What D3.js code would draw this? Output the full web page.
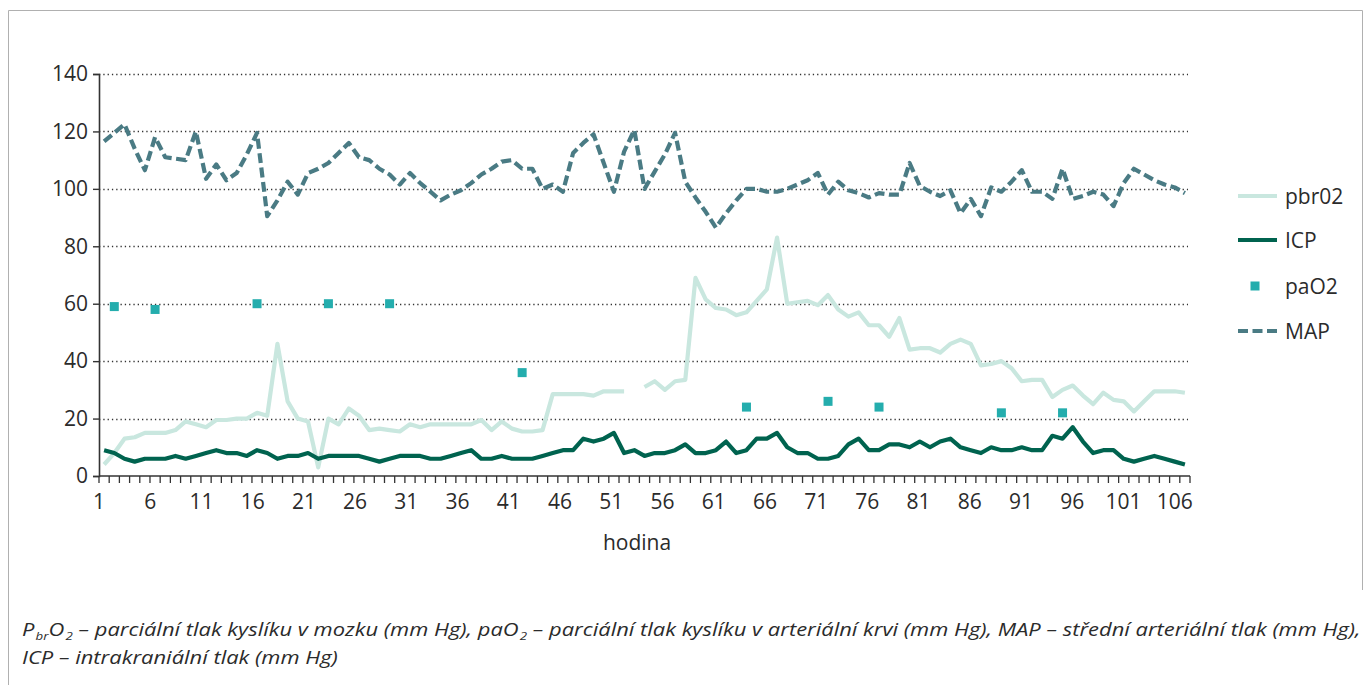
<!DOCTYPE html>
<html>
<head>
<meta charset="utf-8">
<script src="https://cdn.jsdelivr.net/npm/d3@7"></script>
<style>
  html, body { margin: 0; padding: 0; background: #fff; }
  svg { display: block; font-family: "Open Sans", "Noto Sans", sans-serif; }
</style>
</head>
<body>
<svg id="chart" width="1370" height="685"></svg>
<script>
// ---------- data ----------
const hours = d3.range(1, 108); // categories 1..107
const xTickLabels = [1, 6, 11, 16, 21, 26, 31, 36, 41, 46, 51, 56, 61, 66, 71, 76, 81, 86, 91, 96, 101, 106];
const yTicks = [0, 20, 40, 60, 80, 100, 120, 140];

const pbr02 = [
  4, 8, 13, 13.5, 15, 15, 15, 16, 19, 18, 17, 19.5, 19.5, 20, 20, 22, 21, 46, 26, 20, 19, 3, 20, 18, 23.5, 21, 16,
  16.5, 16, 15.5, 18, 17, 18, 18, 18, 18, 18, 19.5, 16, 19, 16.5, 15.5, 15.5, 16, 28.5, 28.5, 28.5, 28.5, 28, 29.5, 29.5, 29.5,
  null,
  31, 33, 30, 33, 33.5, 69, 61.5, 58.5, 58, 56, 57, 61, 65, 83, 60, 60.5, 61, 59.5, 63, 58, 55.5, 57, 52.5, 52.5, 48.5, 55, 44,
  44.5, 44.5, 43, 46, 47.5, 46, 38.5, 39, 40, 37.5, 33, 33.5, 33.5, 27.5, 30, 31.5, 28, 25, 29, 26.5, 26, 22.5, 26, 29.5, 29.5, 29.5, 29
];

const icp = [
  9, 8, 6, 5, 6, 6, 6, 7, 6, 7, 8, 9, 8, 8, 7, 9, 8, 6, 7, 7, 8, 6, 7, 7, 7, 7, 6,
  5, 6, 7, 7, 7, 6, 6, 7, 8, 9, 6, 6, 7, 6, 6, 6, 7, 8, 9, 9, 13, 12, 13, 15, 8, 9,
  7, 8, 8, 9, 11, 8, 8, 9, 12, 8, 9, 13, 13, 15, 10, 8, 8, 6, 6, 7, 11, 13, 9, 9, 11, 11, 10,
  12, 10, 12, 13, 10, 9, 8, 10, 9, 9, 10, 9, 9, 14, 13, 17, 12, 8, 9, 9, 6, 5, 6, 7, 6, 5, 4
];

const map = [
  116.5, 119.5, 122.5, 114, 106.5, 118, 111, 110.5, 110, 120, 103.5, 108.5, 103, 105.5, 112, 119.5, 90.5, 96, 102.5, 98, 105.5, 107, 109, 112.5, 116, 111, 110,
  107, 105, 101.5, 105.5, 102, 99, 96, 98, 99.5, 102, 105, 107, 109.5, 110, 107, 107, 100, 101.5, 99, 112.5, 116, 119, 109, 99, 113, 120.5,
  100, 106, 112, 119.5, 102.5, 97, 92, 86.5, 91.5, 96, 100, 100, 99, 99, 100, 101.5, 103, 105.5, 98, 102.5, 99.5, 98.5, 97, 98.5, 98, 98, 109,
  101, 99, 97.5, 99.5, 91.5, 96.5, 90.5, 100.5, 99, 102.5, 106.5, 99, 99, 96.5, 107, 96.5, 97.5, 99, 98, 94, 102, 107, 105, 103, 101.5, 100.5, 98.5
];

const paO2Hours = [2, 6, 16, 23, 29, 42, 64, 72, 77, 89, 95];
const paO2Values = [59, 58, 60, 60, 60, 36, 24, 26, 24, 22, 22];

const seriesNames = ["pbr02", "ICP", "paO2", "MAP"];
const colors = { pbr02: "#c9e7df", ICP: "#00634f", paO2: "#24adad", MAP: "#4a7b84" };

// ---------- layout ----------
const svg = d3.select("#chart");
const pL = 99, pR = 1190, pT = 74, pB = 476;

const x = d3.scaleBand().domain(hours).range([pL, pR]).padding(0);
const bw = x.bandwidth();
const cx = h => x(h) + bw / 2;
const y = d3.scaleLinear().domain([0, 140]).range([pB, pT]);
// label positions (labels sit slightly left of the category centres at the start, on them at the end)
const xLab = d3.scaleLinear().domain([1, 106]).range([x(1), cx(106)]);

// frame
const frame = svg.append("g").attr("stroke", "#b0b0b0").attr("stroke-width", 1).attr("fill", "none");
frame.append("line").attr("x1", 8.5).attr("x2", 1362.5).attr("y1", 10.5).attr("y2", 10.5);
frame.append("line").attr("x1", 8.5).attr("x2", 8.5).attr("y1", 10.5).attr("y2", 685);
frame.append("line").attr("x1", 1362.5).attr("x2", 1362.5).attr("y1", 10.5).attr("y2", 590);

// gridlines
svg.append("g").selectAll("line").data(yTicks.filter(d => d > 0)).join("line")
  .attr("x1", pL).attr("x2", pR - 2)
  .attr("y1", d => Math.round(y(d)) + 0.5).attr("y2", d => Math.round(y(d)) + 0.5)
  .attr("stroke", "#333").attr("stroke-width", 1.3).attr("stroke-dasharray", "1.3,3");

// y axis
const yAxis = svg.append("g").attr("transform", `translate(${pL},0)`)
  .call(d3.axisLeft(y).tickValues(yTicks).tickSize(6).tickPadding(5).tickFormat(d3.format("d")));
yAxis.select(".domain").attr("stroke", "#333").attr("stroke-width", 1.6);
yAxis.selectAll(".tick line").attr("stroke", "#333").attr("stroke-width", 1.4);
yAxis.selectAll(".tick text").attr("font-size", 21).attr("fill", "#2b2b2b")
  .attr("font-family", "Open Sans");

// x axis: tick marks at every category boundary
const xBound = d3.scaleLinear().domain([0, hours.length]).range([pL, pR]);
const xa = svg.append("g");
xa.append("line").attr("x1", pL).attr("x2", pR).attr("y1", pB).attr("y2", pB)
  .attr("stroke", "#333").attr("stroke-width", 1.6);
xa.selectAll("line.tk").data(d3.range(0, hours.length + 1)).join("line").attr("class", "tk")
  .attr("x1", d => xBound(d)).attr("x2", d => xBound(d))
  .attr("y1", pB).attr("y2", pB + 7)
  .attr("stroke", "#333").attr("stroke-width", 1.3);
xa.selectAll("text").data(xTickLabels).join("text")
  .attr("x", d => xLab(d)).attr("y", 509)
  .attr("text-anchor", "middle").attr("font-size", 21).attr("fill", "#2b2b2b")
  .text(d => d);
svg.append("text").attr("x", 637).attr("y", 550).attr("text-anchor", "middle")
  .attr("font-size", 21).attr("fill", "#2b2b2b").text("hodina");

// series
const line = d3.line().defined(d => d.v != null).x(d => cx(d.h)).y(d => y(d.v));
const toPts = arr => hours.map((h, i) => ({ h, v: arr[i] }));

svg.append("path").datum(toPts(pbr02)).attr("d", line)
  .attr("fill", "none").attr("stroke", colors.pbr02).attr("stroke-width", 4.2).attr("stroke-linejoin", "round");
svg.append("path").datum(toPts(icp)).attr("d", line)
  .attr("fill", "none").attr("stroke", colors.ICP).attr("stroke-width", 4.2).attr("stroke-linejoin", "round");
svg.append("path").datum(toPts(map)).attr("d", line)
  .attr("fill", "none").attr("stroke", colors.MAP).attr("stroke-width", 4.2)
  .attr("stroke-dasharray", "10,4.5").attr("stroke-linejoin", "round");

const sq = 9;
svg.append("g").selectAll("rect").data(paO2Hours.map((h, i) => ({ h, v: paO2Values[i] }))).join("rect")
  .attr("x", d => cx(d.h) - sq / 2).attr("y", d => y(d.v) - sq / 2)
  .attr("width", sq).attr("height", sq).attr("fill", colors.paO2);

// legend
const legY = [196, 240, 286, 331];
const lg = svg.append("g");
seriesNames.forEach((name, i) => {
  const yy = legY[i];
  if (name === "paO2") {
    lg.append("rect").attr("x", 1255 - sq / 2).attr("y", yy - sq / 2).attr("width", sq).attr("height", sq).attr("fill", colors.paO2);
  } else {
    lg.append("line").attr("x1", 1238).attr("x2", 1277).attr("y1", yy).attr("y2", yy)
      .attr("stroke", colors[name]).attr("stroke-width", 4.2)
      .attr("stroke-dasharray", name === "MAP" ? "10,4.5" : null);
  }
  lg.append("text").attr("x", 1285).attr("y", yy).attr("dy", "0.36em")
    .attr("font-size", 21).attr("fill", "#2b2b2b").text(name);
});

// caption
const cap = svg.append("g").attr("font-style", "italic").attr("font-size", 19).attr("fill", "#2b2b2b");
const t1 = cap.append("text").attr("x", 0).attr("y", 0);
function add(t, s, sub) {
  const ts = t.append("tspan").text(s);
  if (sub) ts.attr("font-size", 11.5).attr("dy", 3.5).attr("dx", 1);
  else if (t.node().childNodes.length > 1) {
    // return to baseline if previous piece was a subscript
    const prev = t.node().childNodes[t.node().childNodes.length - 2];
    if (prev.getAttribute("dy")) ts.attr("dy", -3.5);
  }
}
add(t1, "P"); add(t1, "br", true); add(t1, "O"); add(t1, "2", true);
add(t1, " – parciální tlak kyslíku v mozku (mm Hg), paO"); add(t1, "2", true);
add(t1, " – parciální tlak kyslíku v arteriální krvi (mm Hg), MAP – střední arteriální tlak (mm Hg),");
const t2 = cap.append("text").attr("x", 0).attr("y", 28);
add(t2, "ICP – intrakraniální tlak (mm Hg)");
const w1 = t1.node().getComputedTextLength();
const sx = 1336 / w1;
cap.attr("transform", `translate(22,636) scale(${sx},1)`);
</script>
</body>
</html>
